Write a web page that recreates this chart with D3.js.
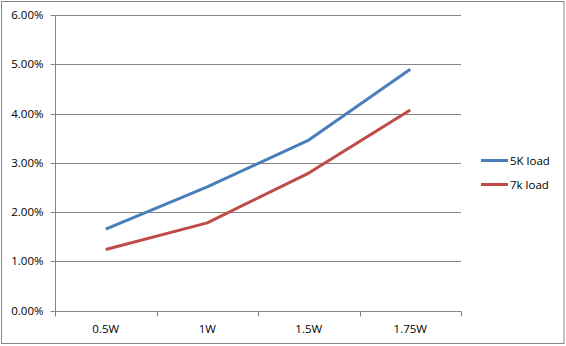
<!DOCTYPE html>
<html lang="en">
<head>
<meta charset="utf-8">
<title>Load chart</title>
<script src="https://d3js.org/d3.v7.min.js"></script>
<style>
  body { margin: 0; background: #fff; }
  svg text { font-family: "Open Sans", "Noto Sans", sans-serif; font-size: 11.5px; fill: #000; }
</style>
</head>
<body>
<script type="text/javascript">

// Data
var categories = ["0.5W", "1W", "1.5W", "1.75W"];
var seriesNames = ["5K load", "7k load"];
var load5k = [1.65, 2.51, 3.46, 4.90];
var load7k = [1.24, 1.78, 2.79, 4.07];
var yTicks = [0, 1, 2, 3, 4, 5, 6];
var colors = ["#4a7ebb", "#be4b48"];

var w = 566, h = 346;
// plot area (note: "top" is reserved on window, so prefix these)
var plotL = 55, plotR = 461, plotT = 15, plotB = 310.5;

var svg = d3.select("body").append("svg")
    .attr("width", w)
    .attr("height", h);

// outer border
svg.append("rect")
    .attr("x", 1.5).attr("y", 1.5)
    .attr("width", 562.5).attr("height", 342)
    .attr("fill", "none")
    .attr("stroke", "#868686");

var xScale = d3.scaleBand()
    .domain(categories)
    .range([plotL, plotR]);

var yScale = d3.scaleLinear()
    .domain([0, 6])
    .range([plotB, plotT]);

function py(d) { return Math.round(yScale(d)) + 0.5; }

// gridlines
svg.append("g")
    .selectAll("line")
    .data(yTicks.slice(1))
    .enter()
    .append("line")
    .attr("x1", plotL)
    .attr("x2", plotR)
    .attr("y1", py)
    .attr("y2", py)
    .attr("stroke", "#868686");

// y axis
var yAxis = d3.axisLeft(yScale)
    .tickValues(yTicks)
    .tickSize(5)
    .tickPadding(7)
    .tickFormat(function(d) { return d.toFixed(2) + "%"; });

var gy = svg.append("g")
    .attr("transform", "translate(" + (plotL + 0.5) + ",0)")
    .call(yAxis);
gy.attr("font-family", null).attr("font-size", null);
gy.selectAll("path, line").attr("stroke", "#868686");
gy.selectAll(".tick").attr("transform", function(d) {
    return "translate(0," + py(d) + ")";
});
gy.select(".domain").attr("d", "M0," + plotT + "V" + py(0));

// x axis with ticks at band edges
var gx = svg.append("g")
    .attr("transform", "translate(0," + py(0) + ")");
gx.append("line")
    .attr("x1", plotL).attr("x2", plotR + 0.5)
    .attr("stroke", "#868686");
var edges = categories.map(function(c) { return xScale(c); }).concat([plotR]);
gx.selectAll("line.tk")
    .data(edges)
    .enter()
    .append("line")
    .attr("class", "tk")
    .attr("x1", function(d) { return Math.round(d) + 0.5; })
    .attr("x2", function(d) { return Math.round(d) + 0.5; })
    .attr("y1", 0).attr("y2", 5)
    .attr("stroke", "#868686");
gx.selectAll("text")
    .data(categories)
    .enter()
    .append("text")
    .attr("x", function(d) { return xScale(d) + xScale.bandwidth() / 2; })
    .attr("y", 21)
    .attr("text-anchor", "middle")
    .text(function(d) { return d; });

// lines
var line = d3.line()
    .x(function(d, i) { return xScale(categories[i]) + xScale.bandwidth() / 2; })
    .y(function(d) { return yScale(d); });

[load5k, load7k].forEach(function(s, i) {
    svg.append("path")
        .datum(s)
        .attr("d", line)
        .attr("fill", "none")
        .attr("stroke", colors[i])
        .attr("stroke-width", 3)
        .attr("stroke-linejoin", "round");
});

// legend
var legend = svg.append("g")
    .selectAll("g")
    .data(seriesNames)
    .enter()
    .append("g")
    .attr("transform", function(d, i) { return "translate(481," + (160.5 + i * 24) + ")"; });
legend.append("line")
    .attr("x1", 0).attr("x2", 27)
    .attr("stroke", function(d, i) { return colors[i]; })
    .attr("stroke-width", 3);
legend.append("text")
    .attr("x", 29)
    .attr("y", 4)
    .text(function(d) { return d; });

</script>
</body>
</html>
